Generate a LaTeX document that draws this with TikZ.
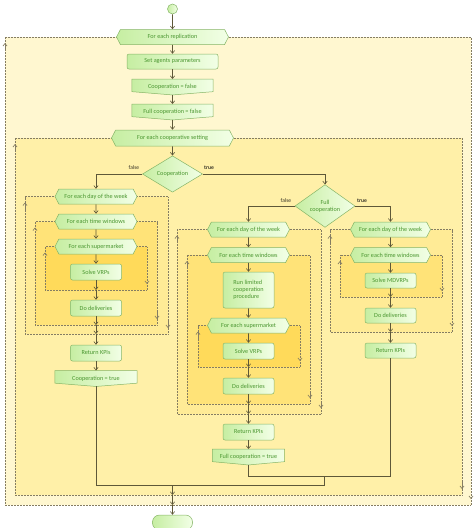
\documentclass[tikz,border=0pt]{standalone}
\usepackage{fontspec}
\setmainfont{Carlito}
\usetikzlibrary{shapes.geometric,shapes.symbols,arrows.meta,calc,backgrounds}
\definecolor{ndborder}{HTML}{86B567}
\definecolor{ndL}{HTML}{C6EEA2}
\definecolor{ndR}{HTML}{F2FFE6}
\definecolor{ndtext}{HTML}{4A9630}
\definecolor{flowc}{HTML}{5E5838}
\definecolor{framec}{HTML}{857D62}
\definecolor{frA}{HTML}{FFF7D0}
\definecolor{frB}{HTML}{FFF0A8}
\definecolor{frC}{HTML}{FFEB96}
\definecolor{frD}{HTML}{FFE378}
\definecolor{frE}{HTML}{FFDA5A}
\definecolor{lbl}{HTML}{3A3628}
\tikzset{
  ndshape/.style={draw=ndborder, line width=0.5pt, left color=ndL, right color=ndR},
  nd/.style={ndshape, text=ndtext, font=\fontsize{6.2}{7}\selectfont, inner sep=1pt, align=center},
  act/.style={nd, rectangle, rounded corners=2pt, minimum height=16pt, minimum width=51pt},
  hexa/.style={nd, signal, signal to=east and west, signal pointer angle=125, minimum height=15pt, minimum width=82pt},
  dec/.style={nd, diamond, inner sep=0pt},
  setv/.style={rectangle, inner sep=0pt, text=ndtext, font=\fontsize{6.2}{7}\selectfont, minimum height=15.5pt, minimum width=82pt},
  flow/.style={draw=flowc, line width=0.6pt, -{Straight Barb[length=2.8pt,width=4.4pt]}},
  conn/.style={draw=flowc, line width=0.6pt},
  frameline/.style={draw=framec, line width=0.6pt, dash pattern=on 0.6pt off 0.9pt},
  framearrow/.style={draw=framec, line width=0.6pt, dash pattern=on 0.6pt off 0.9pt, -{Straight Barb[length=2.6pt,width=4.2pt]}},
  lab/.style={text=lbl, font=\fontsize{5.6}{6}\selectfont, inner sep=0pt},
}
\newcommand\loopframe[6]{%
  \fill[#6] (#3,#2) rectangle (#4,#5);
  \draw[frameline] (#1.east) -- (#4,#2) -- (#4,#5) -- (#3,#5) -- (#3,#2) -- (#1.west);
  \draw[framearrow] (#4,{#5-13}) -- (#4,{#5-6});
  \draw[framearrow] (#3,{#2+13}) -- (#3,{#2+6});
}
\newcommand\setvshape[1]{%
  \path[ndshape] (#1.north west) -- (#1.north east) -- ($(#1.south east)+(0,-3.3)$) -- (#1.south) -- ($(#1.south west)+(0,-3.3)$) -- cycle;
}
\begin{document}
\begin{tikzpicture}[x=1pt,y=-1pt]
\useasboundingbox (0,0) rectangle (474,528);
% main column
\node[ndshape, circle, minimum size=10pt, inner sep=0pt] (start) at (172.5,9) {};
\node[hexa, minimum width=112pt] (rep) at (172.5,37) {For each replication};
\node[act, minimum width=91pt, minimum height=15pt] (set) at (172.5,61.5) {Set agents parameters};
\node[setv, minimum width=81pt] (coopF) at (172.5,87) {Cooperation = false};
\node[setv, minimum width=81pt] (fullF) at (172.5,112) {Full cooperation = false};
\node[hexa, minimum width=122pt, minimum height=16pt] (cset) at (172.5,138) {For each cooperative setting};
\node[dec, minimum width=60pt, minimum height=35pt] (coopd) at (172.5,174) {Cooperation};
% left column
\node[hexa] (dayL) at (96,196.5) {For each day of the week};
\node[hexa] (twL) at (96,221.5) {For each time windows};
\node[hexa] (smL) at (96,246.5) {For each supermarket};
\node[act] (solveL) at (96,272) {Solve VRPs};
\node[act] (delL) at (96,308) {Do deliveries};
\node[act] (retL) at (96,353) {Return KPIs};
\node[setv] (coopT) at (96,378.5) {Cooperation = true};
% middle column
\node[dec, minimum width=60pt, minimum height=34pt] (fcd) at (325,206) {Full\\cooperation};
\node[hexa] (dayM) at (248.5,229.5) {For each day of the week};
\node[hexa] (twM) at (248.5,255) {For each time windows};
\node[act, minimum height=36pt, align=left] (runM) at (248.5,290) {Run limited\\cooperation\\procedure};
\node[hexa] (smM) at (248.5,325.5) {For each supermarket};
\node[act] (solveM) at (248.5,351) {Solve VRPs};
\node[act] (delM) at (248.5,386) {Do deliveries};
\node[act] (retM) at (248.5,432) {Return KPIs};
\node[setv, minimum width=72pt] (fullT) at (248.5,457) {Full cooperation = true};
% right column
\node[hexa, minimum width=80pt] (dayR) at (390.5,229.5) {For each day of the week};
\node[hexa, minimum width=80pt] (twR) at (390.5,255) {For each time windows};
\node[act, minimum height=15pt] (solveR) at (390.5,280.5) {Solve MDVRPs};
\node[act, minimum height=15pt] (delR) at (390.5,315.5) {Do deliveries};
\node[act, minimum height=15pt] (retR) at (390.5,350.5) {Return KPIs};
% end
\node[ndshape, rectangle, rounded corners=7pt, minimum width=40pt, minimum height=15pt] (end) at (172.5,522.5) {};
% labels
\node[lab] (lf1) at (134,168) {false};
\node[lab, font=\fontsize{5.6}{6}\selectfont\bfseries] (lt1) at (209,168) {true};
\node[lab] (lf2) at (286,201) {false};
\node[lab, font=\fontsize{5.6}{6}\selectfont\bfseries] (lt2) at (362,201) {true};
% coordinates on frame bottoms
\coordinate (smLb) at (96,290);
\coordinate (twLb) at (96,325);
\coordinate (dayLb) at (96,334);
\coordinate (smMb) at (248.5,367);
\coordinate (twMb) at (248.5,404);
\coordinate (dayMb) at (248.5,414);
\coordinate (twRb) at (390.5,297);
\coordinate (dayRb) at (390.5,332);
\coordinate (j1) at (172.5,485);
\coordinate (j2) at (324.5,485);
\coordinate (j3) at (324.5,476);
\coordinate (csb) at (172.5,495);
\coordinate (repb) at (172.5,505);
% background frames
\begin{scope}[on background layer]
\loopframe{rep}{37}{5}{471}{505}{frA}
\loopframe{cset}{138}{15}{462}{495}{frB}
\loopframe{dayL}{196.5}{25}{168}{334}{frC}
\loopframe{twL}{221.5}{35}{157}{325}{frD}
\loopframe{smL}{246.5}{45}{147}{290}{frE}
\loopframe{dayM}{229.5}{177}{321}{414}{frC}
\loopframe{twM}{255}{187}{310}{404}{frD}
\loopframe{smM}{325.5}{198}{300}{367}{frE}
\loopframe{dayR}{229.5}{330}{452}{332}{frC}
\loopframe{twR}{255}{340}{442}{297}{frD}
\setvshape{coopF}
\setvshape{fullF}
\setvshape{coopT}
\setvshape{fullT}
\end{scope}
% connectors main
\draw[flow] (start) -- (rep);
\draw[flow] (rep) -- (set);
\draw[flow] (set) -- (coopF);
\draw[flow] (coopF) -- (fullF);
\draw[flow] (fullF) -- (cset);
\draw[flow] (cset) -- (coopd);
\draw[flow] (coopd.west) -| (dayL.north);
\draw[flow] (coopd.east) -| (fcd.north);
% left
\draw[flow] (dayL) -- (twL);
\draw[flow] (twL) -- (smL);
\draw[flow] (smL) -- (solveL);
\draw[flow] (solveL) -- (smLb);
\draw[flow] (smLb) -- (delL.north);
\draw[flow] (delL) -- (twLb);
\draw[flow] (twLb) -- (dayLb);
\draw[flow] (dayLb) -- (retL.north);
\draw[flow] (retL) -- (coopT);
\draw[conn] (coopT.south) |- (j2);
% middle
\draw[flow] (fcd.west) -| (dayM.north);
\draw[flow] (fcd.east) -| (dayR.north);
\draw[flow] (dayM) -- (twM);
\draw[flow] (twM) -- (runM);
\draw[flow] (runM) -- (smM);
\draw[flow] (smM) -- (solveM);
\draw[flow] (solveM) -- (smMb);
\draw[flow] (smMb) -- (delM.north);
\draw[flow] (delM) -- (twMb);
\draw[flow] (twMb) -- (dayMb);
\draw[flow] (dayMb) -- (retM.north);
\draw[flow] (retM) -- (fullT);
\draw[conn] (fullT.south) |- (retR.south |- j3) -- (retR.south);
\draw[conn] (j3) -- (j2);
% right
\draw[flow] (dayR) -- (twR);
\draw[flow] (twR) -- (solveR);
\draw[flow] (solveR) -- (twRb);
\draw[flow] (twRb) -- (delR.north);
\draw[flow] (delR) -- (dayRb);
\draw[flow] (dayRb) -- (retR.north);
% exit
\draw[flow] (j1) -- (csb);
\draw[flow] (csb) -- (repb);
\draw[flow] (repb) -- (end.north);
\end{tikzpicture}
\end{document}
